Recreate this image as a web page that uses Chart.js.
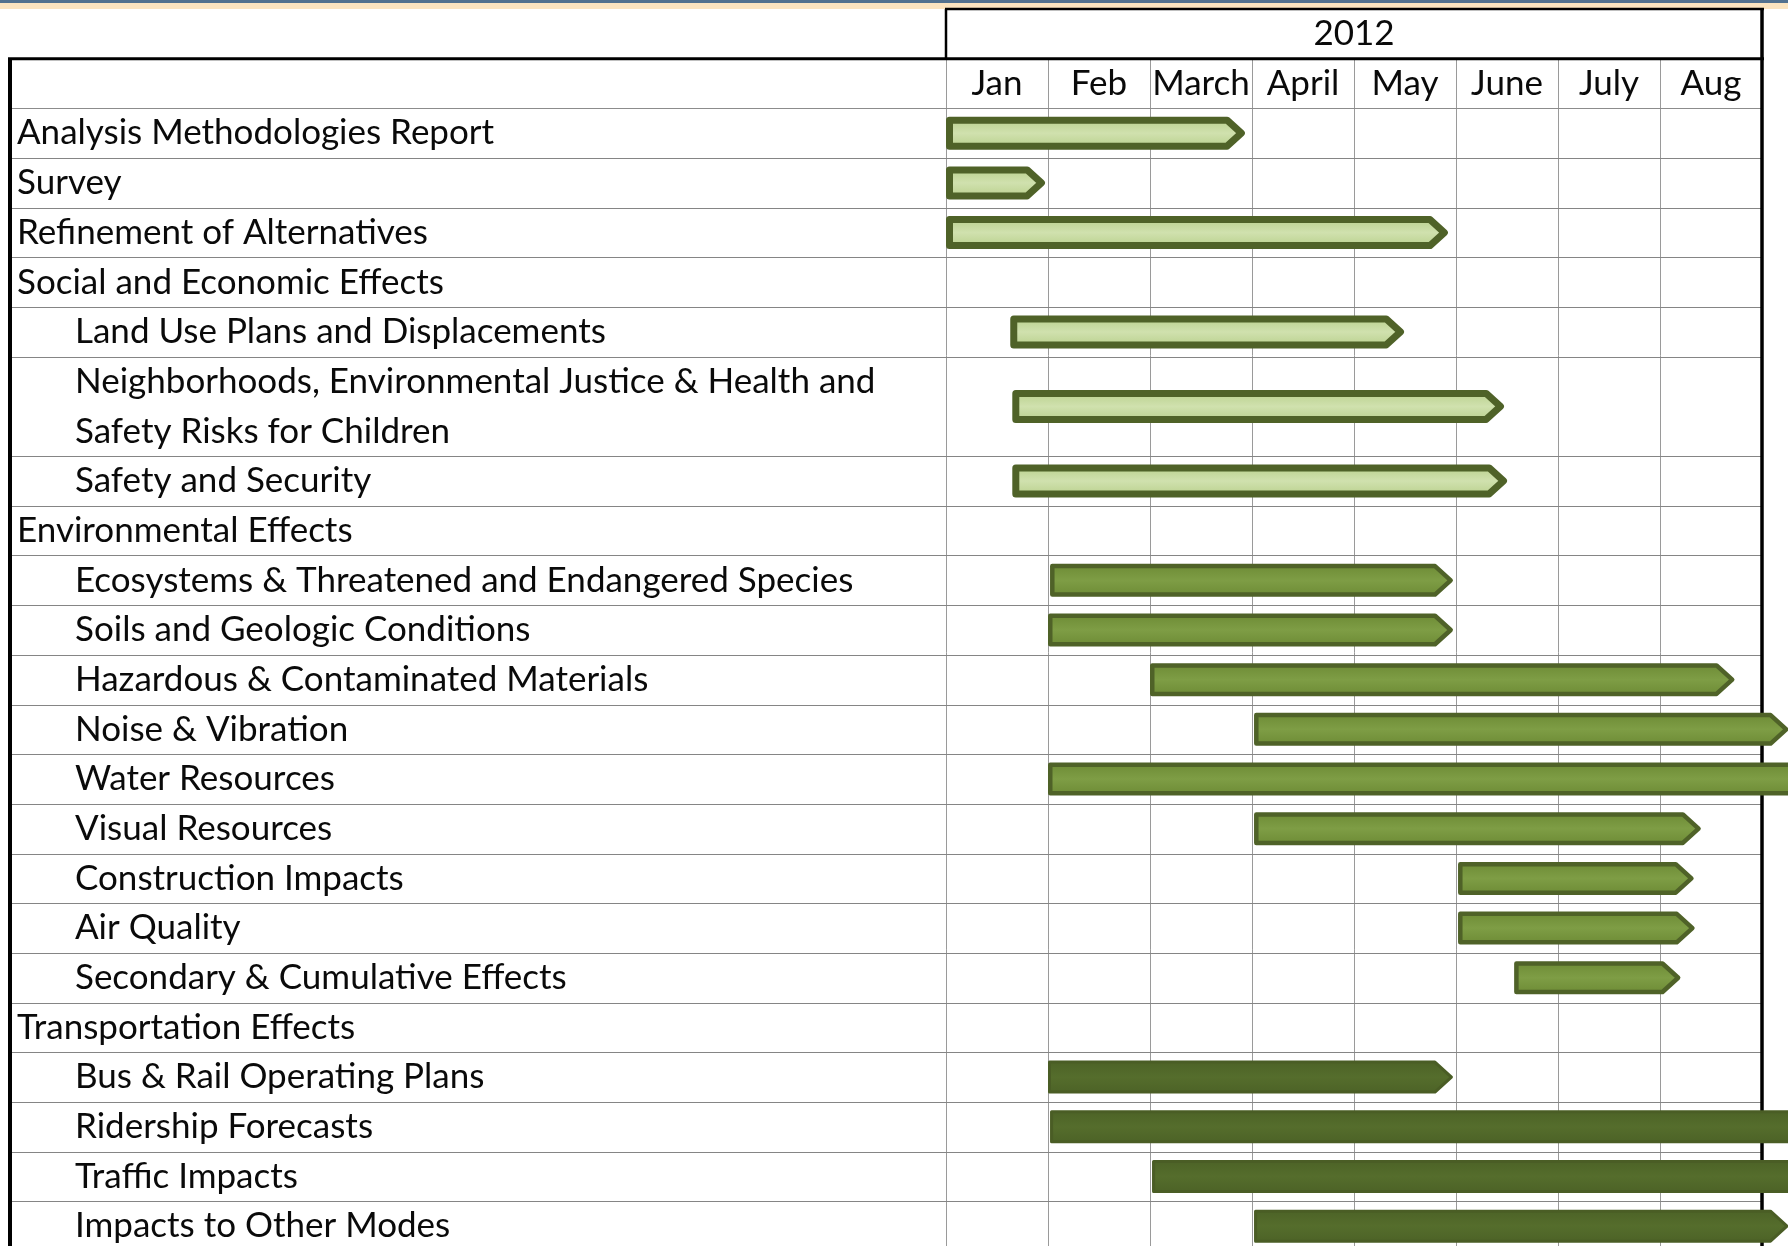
<!DOCTYPE html>
<html>
<head>
<meta charset="utf-8">
<title>EIS Schedule 2012</title>
<script src="https://cdn.jsdelivr.net/npm/chart.js@4.4.1/dist/chart.umd.min.js"></script>
<style>
  html, body { margin: 0; padding: 0; background: #fff; overflow: hidden; }
  canvas { display: block; }
</style>
</head>
<body>
<canvas id="schedule" width="1788" height="1246"></canvas>
<script>
const yearLabel = '2012';
const months = ['Jan', 'Feb', 'March', 'April', 'May', 'June', 'July', 'Aug'];

// one entry per task row; "\n" splits a label over two table lines
const taskNames = [
  'Analysis Methodologies Report',
  'Survey',
  'Refinement of Alternatives',
  'Social and Economic Effects',
  'Land Use Plans and Displacements',
  'Neighborhoods, Environmental Justice & Health and\nSafety Risks for Children',
  'Safety and Security',
  'Environmental Effects',
  'Ecosystems & Threatened and Endangered Species',
  'Soils and Geologic Conditions',
  'Hazardous & Contaminated Materials',
  'Noise & Vibration',
  'Water Resources',
  'Visual Resources',
  'Construction Impacts',
  'Air Quality',
  'Secondary & Cumulative Effects',
  'Transportation Effects',
  'Bus & Rail Operating Plans',
  'Ridership Forecasts',
  'Traffic Impacts',
  'Impacts to Other Modes'
];
const outlineLevel = [0, 0, 0, 0, 1, 1, 1, 0, 1, 1, 1, 1, 1, 1, 1, 1, 1, 0, 1, 1, 1, 1];
const workstream = [
  'studies', 'studies', 'studies', 'studies', 'studies', 'studies', 'studies',
  'environmental', 'environmental', 'environmental', 'environmental', 'environmental',
  'environmental', 'environmental', 'environmental', 'environmental', 'environmental',
  'transportation', 'transportation', 'transportation', 'transportation', 'transportation'
];
// months elapsed since 1 Jan 2012
const startMonth = [0, 0, 0, null, 0.63, 0.65, 0.65, null, 1.02, 1.0, 2.0, 3.02, 1.0, 3.02, 5.02, 5.02, 5.57, null, 1.0, 1.02, 2.02, 3.02];
const endMonth = [2.93, 0.97, 4.92, null, 4.49, 5.47, 5.5, null, 4.97, 4.97, 7.73, 8.26, 8.5, 7.4, 7.33, 7.34, 7.2, null, 4.97, 8.5, 8.5, 8.26];

const FONT = '35px Lato, "Liberation Sans", sans-serif';
const barStyles = {
  studies: { fill: ['#bcd291', '#d0e1ae'], stroke: '#4f6228', lineWidth: 7 },
  environmental: { fill: ['#6f8d37', '#7e9d45'], stroke: '#4f6228', lineWidth: 4.5 },
  transportation: { fill: ['#4d6327', '#556d2c'], stroke: '#4a5d25', lineWidth: 3 }
};

const lineCount = taskNames.map(n => n.split('\n').length);
const rowTop = [];
lineCount.reduce((acc, n, i) => { rowTop[i] = acc; return acc + n; }, 0);
const rowCenter = rowTop.map((t, i) => t + lineCount[i] / 2);

const streams = ['studies', 'environmental', 'transportation'];
const datasets = streams.map(s => ({
  label: s,
  stream: s,
  data: taskNames.map((_, i) => i)
    .filter(i => workstream[i] === s && startMonth[i] !== null)
    .map(i => ({ x: [startMonth[i], endMonth[i]], y: rowCenter[i] })),
  backgroundColor: 'rgba(0,0,0,0)',
  borderWidth: 0,
  barThickness: 33,
  grouped: false
}));

function hLine(ctx, x1, x2, y, w, color) {
  ctx.beginPath();
  ctx.lineWidth = w;
  ctx.strokeStyle = color;
  ctx.moveTo(x1, y);
  ctx.lineTo(x2, y);
  ctx.stroke();
}
function vLine(ctx, x, y1, y2, w, color) {
  ctx.beginPath();
  ctx.lineWidth = w;
  ctx.strokeStyle = color;
  ctx.moveTo(x, y1);
  ctx.lineTo(x, y2);
  ctx.stroke();
}

// pointed task bar, outline kept inside the element bounds
function drawArrow(ctx, left, right, cy, h, st) {
  const half = st.lineWidth / 2;
  const l = left + half, r = right - half;
  const t = cy - h / 2 + half, b = cy + h / 2 - half;
  const tip = (b - t) * 0.55;
  ctx.beginPath();
  ctx.moveTo(l, t);
  ctx.lineTo(r - tip, t);
  ctx.lineTo(r, cy);
  ctx.lineTo(r - tip, b);
  ctx.lineTo(l, b);
  ctx.closePath();
  const g = ctx.createLinearGradient(0, t, 0, b);
  g.addColorStop(0, st.fill[0]);
  g.addColorStop(0.5, st.fill[1]);
  g.addColorStop(1, st.fill[0]);
  ctx.fillStyle = g;
  ctx.fill();
  ctx.lineJoin = 'round';
  ctx.lineWidth = st.lineWidth;
  ctx.strokeStyle = st.stroke;
  ctx.stroke();
}

const scheduleTable = {
  id: 'scheduleTable',
  beforeDraw(chart) {
    const { ctx, width } = chart;
    ctx.save();
    ctx.fillStyle = '#ffffff';
    ctx.fillRect(0, 0, width, chart.height);
    ctx.fillStyle = '#52718f';
    ctx.fillRect(0, 0, width, 3);
    ctx.fillStyle = '#fbe4c0';
    ctx.fillRect(0, 3, width, 6);
    ctx.restore();
  },
  beforeDatasetsDraw(chart) {
    const { ctx, chartArea: area, scales: { x, y } } = chart;
    const tableLeft = 10;
    const xStart = x.getPixelForValue(0);
    const xEnd = x.getPixelForValue(months.length);
    const yearTop = y.getPixelForValue(-2);
    const monthTop = y.getPixelForValue(-1);
    const bodyTop = y.getPixelForValue(0);
    const bottom = area.bottom;
    ctx.save();

    // month columns
    for (let m = 0; m < months.length; m++) {
      const px = Math.round(x.getPixelForValue(m)) + 0.5;
      vLine(ctx, px, monthTop, bottom, 1, '#9a9a9a');
    }
    // row separators
    hLine(ctx, tableLeft, xEnd, Math.round(bodyTop) + 0.5, 1, '#8c8c8c');
    rowTop.forEach((t, i) => {
      const py = Math.round(y.getPixelForValue(t + lineCount[i])) + 0.5;
      hLine(ctx, tableLeft, xEnd, py, 1, '#858585');
    });

    ctx.fillStyle = '#0a0a0a';
    ctx.font = FONT;
    ctx.textBaseline = 'middle';

    ctx.textAlign = 'center';
    months.forEach((name, m) => {
      ctx.fillText(name, x.getPixelForValue(m + 0.5), y.getPixelForValue(-0.5));
    });
    ctx.fillText(yearLabel, (xStart + xEnd) / 2, y.getPixelForValue(-1.5));

    ctx.textAlign = 'left';
    taskNames.forEach((name, i) => {
      const tx = tableLeft + 7 + outlineLevel[i] * 58;
      name.split('\n').forEach((line, j) => {
        ctx.fillText(line, tx, y.getPixelForValue(rowTop[i] + j + 0.5));
      });
    });

    // table borders
    hLine(ctx, xStart - 1, xEnd + 2, yearTop, 2.5, '#000');
    vLine(ctx, xStart, yearTop, monthTop, 2.5, '#000');
    hLine(ctx, tableLeft - 2, xEnd + 2, monthTop, 3, '#000');
    vLine(ctx, tableLeft, monthTop, bottom, 4, '#000');
    vLine(ctx, xEnd, yearTop - 1, bottom, 3.5, '#000');
    ctx.restore();
  },
  afterDatasetsDraw(chart) {
    const { ctx } = chart;
    ctx.save();
    chart.data.datasets.forEach((ds, di) => {
      const st = barStyles[ds.stream];
      chart.getDatasetMeta(di).data.forEach(el => {
        const { x, y, base, height } = el.getProps(['x', 'y', 'base', 'height'], true);
        drawArrow(ctx, Math.min(base, x), Math.max(base, x), y, height, st);
      });
    });
    ctx.restore();
  }
};

document.fonts.load(FONT).then(() => {
  new Chart(document.getElementById('schedule'), {
    type: 'bar',
    data: { datasets },
    options: {
      indexAxis: 'y',
      responsive: false,
      animation: false,
      layout: { padding: { left: 946, right: 26, top: 9, bottom: 0 } },
      scales: {
        x: { type: 'linear', min: 0, max: months.length, display: false },
        y: { type: 'linear', min: -2, max: 22.9, reverse: true, offset: false, display: false }
      },
      plugins: {
        legend: { display: false },
        tooltip: { enabled: false }
      }
    },
    plugins: [scheduleTable]
  });
});
</script>
</body>
</html>
